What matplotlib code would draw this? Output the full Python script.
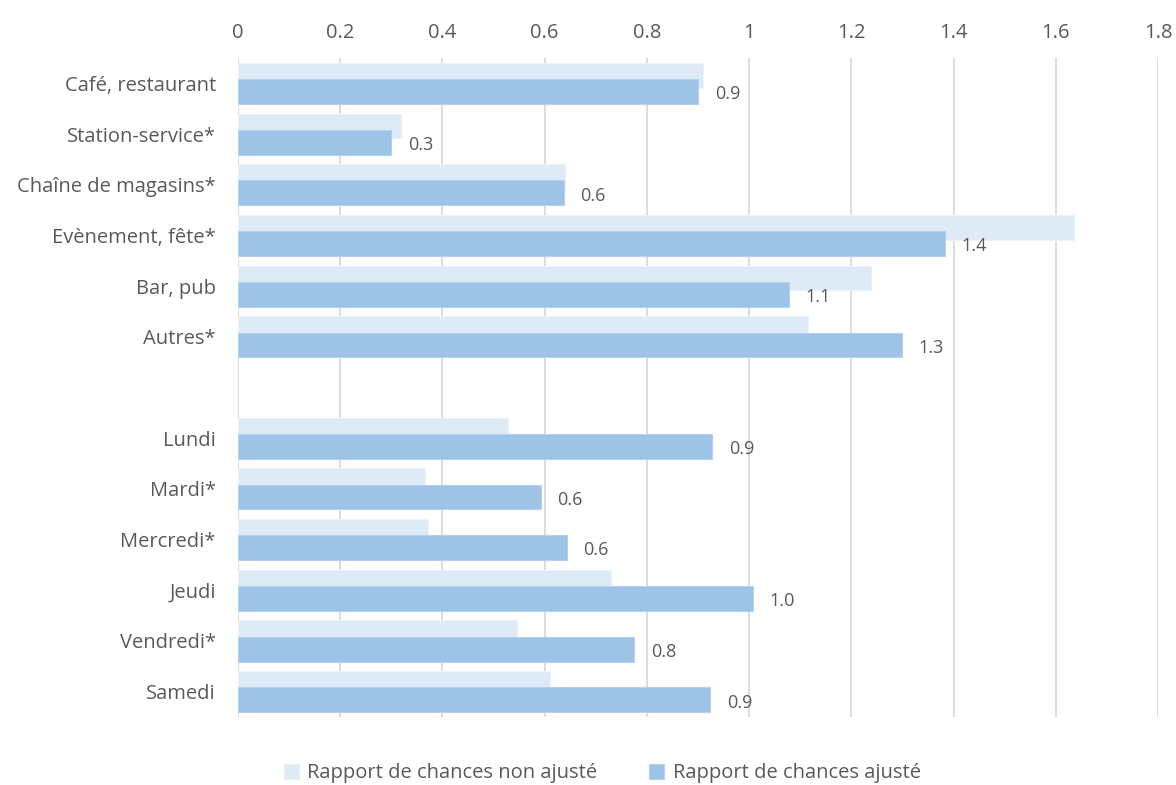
import matplotlib
matplotlib.use('Agg')
import matplotlib.pyplot as plt
import numpy as np

# data
categories = ['Café, restaurant', 'Station-service*', 'Chaîne de magasins*',
              'Evènement, fête*', 'Bar, pub', 'Autres*', '',
              'Lundi', 'Mardi*', 'Mercredi*', 'Jeudi', 'Vendredi*', 'Samedi']
non_ajuste = [0.91, 0.318, 0.64, 1.635, 1.238, 1.115, np.nan,
              0.529, 0.365, 0.371, 0.73, 0.545, 0.611]
ajuste = [0.90, 0.30, 0.637, 1.383, 1.078, 1.299, np.nan,
          0.928, 0.592, 0.643, 1.008, 0.775, 0.924]
xticks = [0, 0.2, 0.4, 0.6, 0.8, 1, 1.2, 1.4, 1.6, 1.8]
xtick_labels = ['0', '0.2', '0.4', '0.6', '0.8', '1', '1.2', '1.4', '1.6', '1.8']

plt.rcParams['font.family'] = ['Open Sans', 'DejaVu Sans']
txt = '#595959'
light = '#DEEAF6'
dark = '#9DC3E6'

fig = plt.figure(figsize=(11.76, 7.85), dpi=100)
ax = fig.add_axes([0.2024, 0.0866, 0.7823, 0.8395])

y = np.arange(len(categories))
h = 0.49
off = 0.16
ax.barh(y - off, non_ajuste, height=h, color=light, edgecolor='#EAF2FA', linewidth=0.8,
        label='Rapport de chances non ajusté', zorder=2)
ax.barh(y + off, ajuste, height=h, color=dark, edgecolor='#B4D2EE', linewidth=0.8,
        label='Rapport de chances ajusté', zorder=3)

# etiquettes des valeurs ajustées
for yi, v in zip(y, ajuste):
    if np.isnan(v):
        continue
    ax.annotate(f'{v:.1f}', (v, yi + off), xytext=(12, -2), textcoords='offset points',
                ha='left', va='center', fontsize=13, color=txt)

ax.set_ylim(len(categories) - 0.5, -0.5)
ax.set_xlim(0, 1.8)
ax.set_xticks(xticks)
ax.set_xticklabels(xtick_labels)
ax.set_yticks(y)
ax.set_yticklabels(categories)
ax.xaxis.tick_top()
ax.tick_params(axis='x', length=0, pad=11, labelsize=14.5, colors=txt)
ax.tick_params(axis='y', length=0, pad=16, labelsize=14.5, colors=txt)
ax.grid(axis='x', color='#D9D9D9', linewidth=1.3, zorder=0)
ax.set_axisbelow(True)
for s in ax.spines.values():
    s.set_visible(False)

leg = fig.legend(loc='center', bbox_to_anchor=(0.512, 0.015), ncol=2, frameon=False,
                 fontsize=14.5, handlelength=0.75, handleheight=0.75, handletextpad=0.4,
                 columnspacing=2.6)
for t in leg.get_texts():
    t.set_color(txt)

fig.savefig('out.png', dpi=100)
